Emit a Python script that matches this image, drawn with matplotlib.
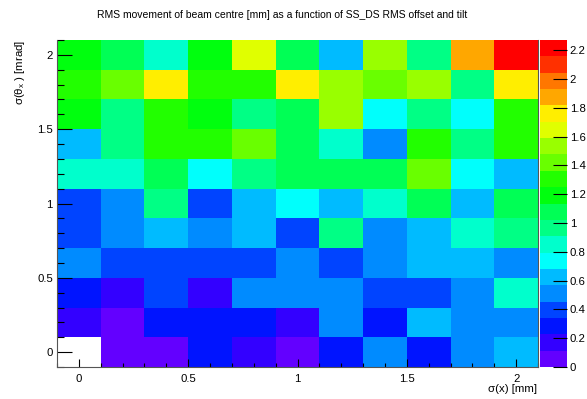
import colorsys
import numpy as np
import matplotlib
matplotlib.use("Agg")
import matplotlib.pyplot as plt
from matplotlib.colors import ListedColormap, Normalize
from matplotlib.ticker import MultipleLocator, FormatStrFormatter

plt.rcParams['font.family'] = ['Liberation Sans', 'DejaVu Sans']
plt.rcParams['mathtext.fontset'] = 'custom'
plt.rcParams['mathtext.rm'] = 'Liberation Sans'
plt.rcParams['mathtext.it'] = 'Liberation Sans'

# bin edges: sigma(x) [mm] and sigma(theta_x) [mrad], 11 bins each
x_edges = np.linspace(-0.1, 2.1, 12)
y_edges = np.linspace(-0.1, 2.1, 12)

# RMS movement of beam centre [mm], rows = sigma(theta_x) 0 .. 2.0, cols = sigma(x) 0 .. 2.0
rms_move = np.array([
    [0.00, 0.06, 0.06, 0.28, 0.17, 0.06, 0.28, 0.51, 0.28, 0.51, 0.62],
    [0.17, 0.06, 0.28, 0.28, 0.28, 0.17, 0.51, 0.28, 0.62, 0.51, 0.51],
    [0.28, 0.17, 0.40, 0.17, 0.51, 0.51, 0.51, 0.40, 0.40, 0.51, 0.85],
    [0.51, 0.40, 0.40, 0.40, 0.40, 0.51, 0.40, 0.51, 0.62, 0.62, 0.51],
    [0.40, 0.51, 0.62, 0.51, 0.62, 0.40, 0.96, 0.51, 0.62, 0.85, 0.96],
    [0.40, 0.51, 0.96, 0.40, 0.62, 0.74, 0.62, 0.85, 1.08, 0.62, 1.08],
    [0.85, 0.85, 1.08, 0.74, 0.96, 1.08, 1.08, 1.08, 1.42, 0.74, 0.62],
    [0.62, 0.96, 1.31, 1.31, 1.42, 1.08, 0.85, 0.51, 1.31, 0.96, 1.31],
    [1.19, 0.96, 1.31, 1.19, 0.96, 1.08, 1.53, 0.74, 0.96, 0.74, 1.31],
    [1.31, 1.42, 1.76, 1.31, 1.31, 1.76, 1.53, 1.42, 1.53, 0.96, 1.76],
    [1.19, 1.08, 0.85, 1.19, 1.65, 1.08, 0.62, 1.53, 0.96, 1.87, 2.27],
])

cbar_ticks = [0, 0.2, 0.4, 0.6, 0.8, 1.0, 1.2, 1.4, 1.6, 1.8, 2.0, 2.2]

# ROOT "pretty" palette (violet -> red), 20 contours picked from the 50 colours
pretty = []
for i in range(49):
    hue = 280 - (i + 1) * 280 / 50
    pretty.append(colorsys.hls_to_rgb(hue / 360, 0.5, 1.0))
pretty.append((1.0, 0.0, 0.0))
ncont = 20
colors = [pretty[int((k + 0.99) * 50 / ncont)] for k in range(ncont)]
cmap = ListedColormap(colors)

fig = plt.figure(figsize=(5.87, 3.99), dpi=100)
W, H = 587, 399
ax = fig.add_axes([57 / W, 1 - 367 / H, (538 - 57) / W, (367 - 40) / H])
cax = fig.add_axes([540 / W, 1 - 367 / H, (567 - 540) / W, (367 - 40) / H])

data = np.ma.masked_where(rms_move <= 0, rms_move)
mesh = ax.pcolormesh(x_edges, y_edges, data, cmap=cmap,
                     norm=Normalize(0, rms_move.max()))
ax.set_xlim(x_edges[0], x_edges[-1])
ax.set_ylim(y_edges[0], y_edges[-1])

ax.xaxis.set_major_locator(MultipleLocator(0.5))
ax.xaxis.set_minor_locator(MultipleLocator(0.1))
ax.yaxis.set_major_locator(MultipleLocator(0.5))
ax.yaxis.set_minor_locator(MultipleLocator(0.1))
ax.xaxis.set_major_formatter(FormatStrFormatter('%g'))
ax.yaxis.set_major_formatter(FormatStrFormatter('%g'))
ax.tick_params(axis='x', which='major', direction='in', length=5.8, width=0.8, labelsize=8.2, pad=5)
ax.tick_params(axis='x', which='minor', direction='in', length=2.9, width=0.8)
ax.tick_params(axis='y', which='major', direction='in', length=10.5, width=0.8, labelsize=8.2, pad=3)
ax.tick_params(axis='y', which='minor', direction='in', length=5, width=0.8)
for s in ax.spines.values():
    s.set_color('#555555')
    s.set_linewidth(0.8)
ax.spines['top'].set_visible(False)

cb = fig.colorbar(mesh, cax=cax, ticks=cbar_ticks)
cb.outline.set_visible(False)
cb.ax.yaxis.set_major_formatter(FormatStrFormatter('%g'))
cb.ax.tick_params(direction='in', length=10, width=0.8, labelsize=8.2, pad=2)
cb.ax.minorticks_off()

fig.text(282 / W, 1 - 15 / H, 'RMS movement of beam centre [mm] as a function of SS_DS RMS offset and tilt',
         ha='center', va='center', fontsize=7.5)
fig.text(537 / W, 1 - 389 / H, 'σ(x) [mm]', ha='right', va='center', fontsize=8.2)
fig.text(20 / W, 1 - 40 / H, 'σ(θ$_{x}$ ) [mrad]', ha='center', va='top', rotation=90, fontsize=8.2)

fig.savefig('out.png', dpi=100)
